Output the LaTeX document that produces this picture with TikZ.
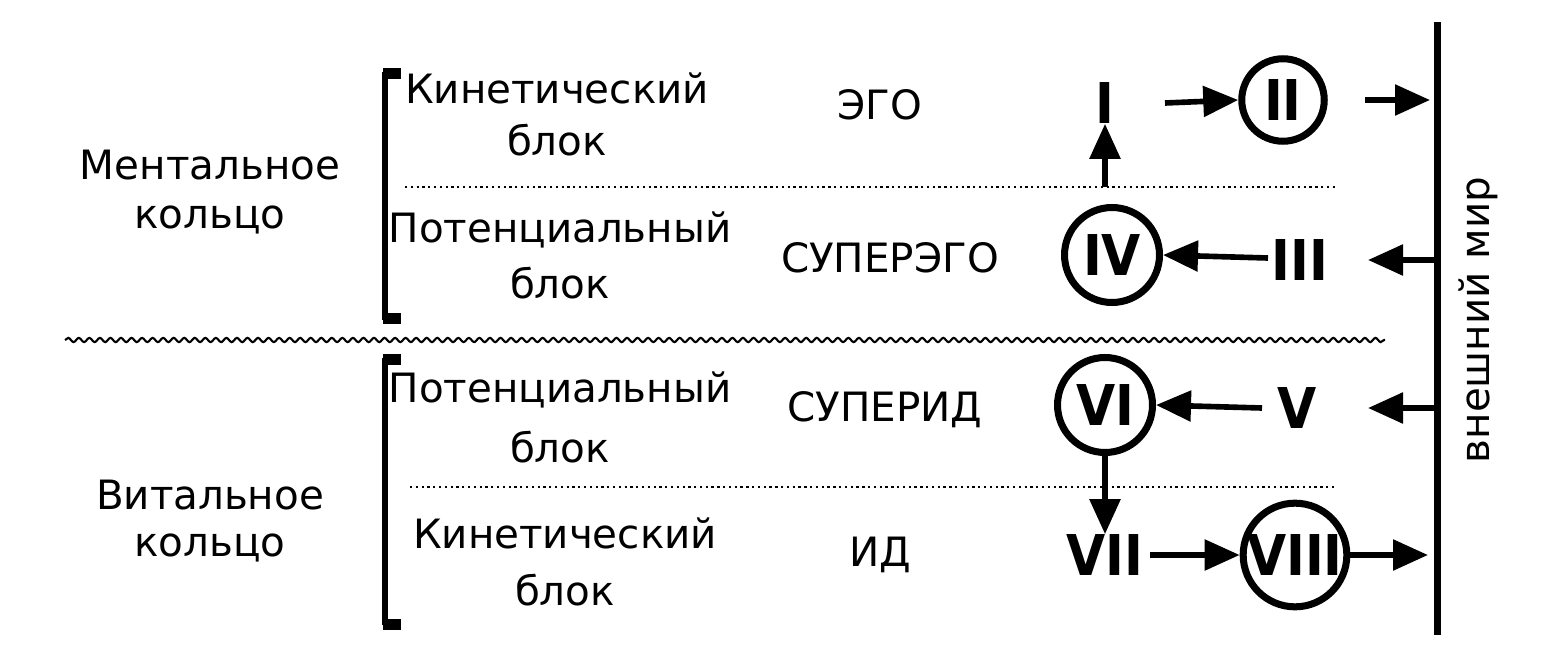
\documentclass[tikz,border=0pt]{standalone}
\usepackage{fontspec}
\setmainfont{DejaVu Sans}
\newfontfamily\numfont{DejaVu Sans Condensed}
\usetikzlibrary{arrows.meta,decorations.pathmorphing}
\begin{document}
\begin{tikzpicture}[x=0.02cm,y=-0.02cm,
  txt/.style={font=\fontsize{23}{30}\selectfont, inner sep=0pt},
  num/.style={font=\numfont\bfseries\fontsize{32}{36}\selectfont, inner sep=0pt},
  circ/.style={num, draw, circle, line width=4pt, minimum size=1.9cm},
  arr/.style={line width=3.2pt, -{Triangle[length=0.7cm,width=0.6cm]}},
  dots/.style={dotted, line width=1.3pt}]
\useasboundingbox (0,0) rectangle (1542,666);
% brackets
\draw[line width=3pt] (385,72) -- (385,320);
\fill (383,68) rectangle (401,79); \fill (383,313) rectangle (401,324);
\draw[line width=3pt] (385,358) -- (385,625);
\fill (383,354) rectangle (401,365); \fill (383,619) rectangle (401,630);
% left labels
\node[txt] (m1) at (210,165) {Ментальное};
\node[txt] (m2) at (210,220) {кольцо};
\node[txt] (v1) at (210,495) {Витальное};
\node[txt] (v2) at (210,548) {кольцо};
\node[txt] (k1) at (557,88) {Кинетический};
\node[txt] (k2) at (557,140) {блок};
\node[txt] (p1) at (560,230) {Потенциальный};
\node[txt] (p2) at (560,283) {блок};
\node[txt] (p3) at (560,390) {Потенциальный};
\node[txt] (p4) at (560,447) {блок};
\node[txt] (k3) at (565,533) {Кинетический};
\node[txt] (k4) at (565,590) {блок};
\node[txt] (ego) at (880,105) {ЭГО};
\node[txt] (sego) at (890,258) {СУПЕРЭГО};
\node[txt] (sid) at (885,410) {СУПЕРИД};
\node[txt] (id) at (880,555) {ИД};
% lines
\draw[dots] (405,187) -- (1335,187);
\draw[dots] (410,487) -- (1335,487);
\draw[line width=1.2pt, decorate, decoration={snake, amplitude=1.2pt, segment length=6pt}] (65,340) -- (1385,340);
\draw[line width=4pt] (1437,22) -- (1437,635);
\node[txt, rotate=90] (world) at (1478,320) {внешний мир};
% numerals
\node[num] (n1) at (1105,103) {I};
\node[circ, minimum size=1.65cm] (n2) at (1283,100) {II};
\node[num] (n3) at (1300,260) {III};
\node[circ] (n4) at (1112,255) {IV};
\node[num] (n5) at (1297,408) {V};
\node[circ] (n6) at (1105,405) {VI};
\node[num] (n7) at (1105,555) {VII};
\node[circ] (n8) at (1295,555) {VIII};
\coordinate (a1) at (1165,103);
\coordinate (a2) at (1365,100);
\coordinate (a3) at (1105,187);
\coordinate (a4) at (1268,258);
\coordinate (a5) at (1435,260);
\coordinate (a6) at (1368,260);
\coordinate (a7) at (1262,408);
\coordinate (a8) at (1435,408);
\coordinate (a9) at (1368,408);
\coordinate (a10) at (1150,555);
\coordinate (w1) at (1430,100);
\coordinate (w4) at (1428,555);
% arrows
\draw[arr] (a1) -- (n2.west);
\draw[arr] (a2) -- (w1);
\draw[arr] (a3) -- (n1.south);
\draw[arr] (a4) -- (n4.east);
\draw[arr] (a5) -- (a6);
\draw[arr] (a7) -- (n6.east);
\draw[arr] (a8) -- (a9);
\draw[arr] (n6.south) -- (n7.north);
\draw[arr] (a10) -- (n8.west);
\draw[arr] (n8.east) -- (w4);
\end{tikzpicture}
\end{document}
